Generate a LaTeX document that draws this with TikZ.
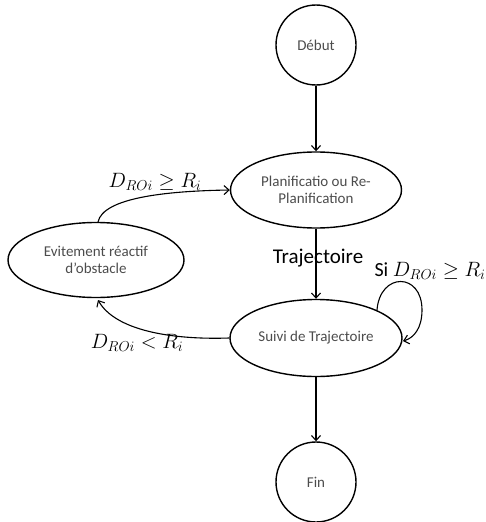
\documentclass[tikz,border=0pt]{standalone}
\usepackage{fontspec}
\setmainfont{Carlito}
\usetikzlibrary{shapes.geometric,arrows.meta}
\begin{document}
\begin{tikzpicture}[x=1pt,y=1pt,
  state/.style={draw,line width=1.4pt,ellipse,minimum width=#1,text=black!70,
    font=\fontsize{15}{17.5}\selectfont,align=center,inner sep=0pt},
  term/.style={draw,line width=1.4pt,circle,minimum size=80pt,text=black!70,
    font=\fontsize{15}{17.5}\selectfont,inner sep=0pt},
  link/.style={-{Straight Barb[length=5pt,width=9pt]},line width=1.1pt},
  lbl/.style={font=\fontsize{20}{22}\selectfont,inner sep=0pt}]
\useasboundingbox (0,0) rectangle (486,-522);
\node[term] (debut) at (316,-45) {Début};
\node[state=171pt,minimum height=76pt] (plan) at (316,-190) {Planificatio ou Re-\\Planification};
\node[state=176pt,minimum height=75pt] (evit) at (96,-260) {Evitement réactif\\d’obstacle};
\node[state=172pt,minimum height=77pt] (suivi) at (316,-338) {Suivi de Trajectoire};
\node[term] (fin) at (316,-482) {Fin};

% straight flow along the main column
\draw[link] (debut) -- (plan);
\draw[link] (plan) -- (suivi);
\draw[link] (suivi) -- (fin);
\node[font=\fontsize{21}{23}\selectfont,inner sep=0pt] (traj) at (318,-258) {Trajectoire};

% avoidance loop
\coordinate (e1) at (98,-222);
\coordinate (e2) at (98,-300);
\draw[link] (e1) .. controls (103,-198) and (165,-191) .. (plan.west);
\draw[link] (suivi.west) .. controls (170,-340) and (115,-330) .. (e2);

% self-loop on the tracking state
\coordinate (s1) at (377,-310);
\coordinate (s2) at (403,-341);
\coordinate (lp) at (422,-310);
\draw[link] (s1) .. controls (380,-272) and (422,-272) .. (lp)
  .. controls (422,-328) and (414,-338) .. (s2);

\node[lbl] (l1) at (155,-182) {$D_{ROi}\geq R_i$};
\node[lbl] (l2) at (137,-343) {$D_{ROi}< R_i$};
\node[lbl] (l3) at (430,-271) {Si $D_{ROi}\geq R_i$};
\end{tikzpicture}
\end{document}
